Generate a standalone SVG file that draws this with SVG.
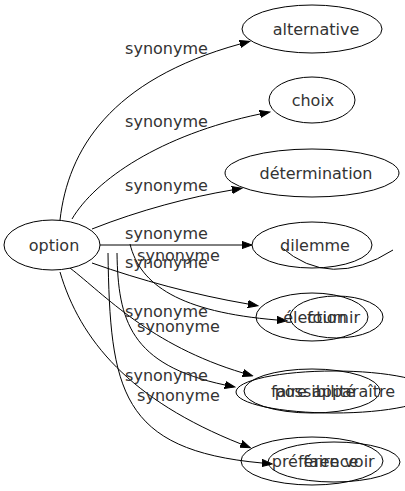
<svg xmlns="http://www.w3.org/2000/svg" width="405" height="491" viewBox="0 0 405 491">
<style>
.n ellipse{fill:none;stroke:#000;stroke-width:1}
.e path{fill:none;stroke:#000;stroke-width:1}
text{font-family:"DejaVu Sans",sans-serif;font-size:16px;fill:#333}
.t{text-anchor:middle}
</style>
<defs>
<marker id="a" markerUnits="userSpaceOnUse" markerWidth="11" markerHeight="9" viewBox="0 -4.5 11 9" refX="0" refY="0" orient="auto"><path d="M0,-3.6 L10,0 L0,3.6 z" fill="#000" stroke="#000" stroke-width="1"/></marker>
</defs>
<rect width="405" height="491" fill="#fff"/>
<g class="e" id="edges">
<path d="M60,220 C68,150 110,80 240,44" marker-end="url(#a)"/>
<path d="M72,219 C95,180 160,135 260,114" marker-end="url(#a)"/>
<path d="M92,229 C140,210 190,197 232,190" marker-end="url(#a)"/>
<path d="M100,245 L242,245" marker-end="url(#a)"/>
<path d="M92,263 C140,280 195,295 248,304" marker-end="url(#a)"/>
<path d="M130,244 C140,285 180,312 277,320" marker-end="url(#a)"/>
<path d="M70,268 C105,295 150,345 243,373" marker-end="url(#a)"/>
<path d="M117,253 C118,320 130,365 225,385" marker-end="url(#a)"/>
<path d="M108,253 C110,390 120,450 262,463" marker-end="url(#a)"/>
<path d="M60,272 C80,340 130,400 241,444" marker-end="url(#a)"/>
<path d="M281,247 Q330,290 393,250"/>
<text class="t" x="166.5" y="54">synonyme</text>
<text class="t" x="166.5" y="127">synonyme</text>
<text class="t" x="166.5" y="191">synonyme</text>
<text class="t" x="166.5" y="239">synonyme</text>
<text class="t" x="178.5" y="261">synonyme</text>
<text class="t" x="166.5" y="268">synonyme</text>
<text class="t" x="166.5" y="317">synonyme</text>
<text class="t" x="178.5" y="332">synonyme</text>
<text class="t" x="166.5" y="381">synonyme</text>
<text class="t" x="178.5" y="401">synonyme</text>
</g>
<g class="n" id="option"><ellipse cx="52" cy="245" rx="48" ry="25"/><text class="t" x="54" y="251">option</text></g>
<g class="n" id="alternative"><ellipse cx="312" cy="29" rx="70" ry="24"/><text class="t" x="316" y="35">alternative</text></g>
<g class="n" id="choix"><ellipse cx="312" cy="100" rx="43" ry="23"/><text class="t" x="313" y="106">choix</text></g>
<g class="n" id="determination"><ellipse cx="312" cy="173" rx="87" ry="24"/><text class="t" x="316" y="179">détermination</text></g>
<g class="n" id="dilemme"><ellipse cx="312" cy="245" rx="60" ry="23"/><text class="t" x="315" y="251">dilemme</text></g>
<g class="n" id="election"><ellipse cx="312" cy="317" rx="56" ry="24"/><text class="t" x="315" y="323">élection</text></g>
<g class="n" id="fournir"><ellipse cx="336.5" cy="317" rx="46.5" ry="21"/><text class="t" x="333.5" y="323">fournir</text></g>
<g class="n" id="possibilite"><ellipse cx="312" cy="391" rx="68" ry="22"/><text class="t" x="315" y="397">possibilité</text></g>
<g class="n" id="faire-apparaitre"><ellipse cx="334" cy="392" rx="98" ry="21"/><text class="t" x="333" y="397">faire apparaître</text></g>
<g class="n" id="preference"><ellipse cx="312" cy="461" rx="71" ry="24"/><text class="t" x="315" y="467">préférence</text></g>
<g class="n" id="faire-voir"><ellipse cx="334" cy="462" rx="66" ry="20"/><text class="t" x="339" y="467">faire voir</text></g>
</svg>
